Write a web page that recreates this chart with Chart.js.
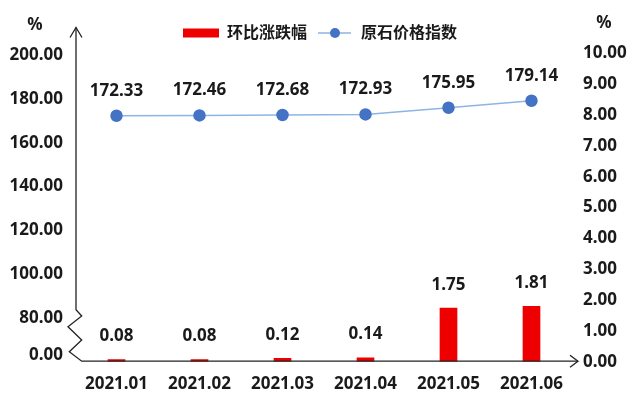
<!DOCTYPE html>
<html>
<head>
<meta charset="utf-8">
<script src="https://cdn.jsdelivr.net/npm/chart.js@4/dist/chart.umd.min.js"></script>
<style>
  html, body { margin: 0; padding: 0; background: #fff; }
  #wrap { width: 640px; height: 402px; }
</style>
</head>
<body>
<div id="wrap"><canvas id="c"></canvas></div>
<script>
// data
const months = ['2021.01', '2021.02', '2021.03', '2021.04', '2021.05', '2021.06'];
const changePct = [0.08, 0.08, 0.12, 0.14, 1.75, 1.81];           // 环比涨跌幅 (right axis)
const priceIndex = [172.33, 172.46, 172.68, 172.93, 175.95, 179.14]; // 原石价格指数 (left axis)
const leftTicks = [80, 100, 120, 140, 160, 180, 200];
const leftBreakTick = 63;   // sits under the axis break, shown as 0.00
const rightMax = 10;

const FONT = '"Noto Sans", "Noto Sans CJK SC", sans-serif';
const INK = '#1a1a1a';

// legend icons, by dataset index
function legendIcon(kind) {
  const cv = document.createElement('canvas');
  cv.width = 36; cv.height = 12;
  const g = cv.getContext('2d');
  if (kind === 'bar') {
    g.fillStyle = '#ee0000';
    g.fillRect(0, 1.5, 36, 9);
  } else {
    g.strokeStyle = '#8eb4e3'; g.lineWidth = 1.5;
    g.beginPath(); g.moveTo(1, 6); g.lineTo(34, 6); g.stroke();
    g.fillStyle = '#4472c4';
    g.beginPath(); g.arc(18, 6, 5, 0, Math.PI * 2); g.fill();
  }
  return cv;
}
const icons = [legendIcon('bar'), legendIcon('line')];

// value labels above bars and points
const valueLabels = {
  id: 'valueLabels',
  afterDatasetsDraw(chart) {
    const ctx = chart.ctx;
    ctx.save();
    ctx.font = 'bold 17px ' + FONT;
    ctx.fillStyle = INK;
    ctx.textAlign = 'center';
    ctx.textBaseline = 'middle';
    chart.getDatasetMeta(0).data.forEach((el, i) => {
      ctx.fillText(changePct[i].toFixed(2), el.x, el.y - 23);
    });
    chart.getDatasetMeta(1).data.forEach((el, i) => {
      ctx.fillText(priceIndex[i].toFixed(2), el.x, el.y - 25);
    });
    ctx.restore();
  }
};

// axis lines with arrows, the break zigzag, % units
const axisDecor = {
  id: 'axisDecor',
  afterDraw(chart) {
    const ctx = chart.ctx, a = chart.chartArea;
    const L = a.left, B = a.bottom;
    ctx.save();
    ctx.strokeStyle = '#222';
    ctx.lineWidth = 1.3;
    ctx.beginPath();
    ctx.moveTo(L + 1, a.top - 26);
    ctx.lineTo(L + 1, B - 52);
    ctx.lineTo(L + 6.7, B - 45.7);
    ctx.lineTo(L - 7, B - 35);
    ctx.lineTo(L + 6.7, B - 21.7);
    ctx.lineTo(L - 5.7, B - 10);
    ctx.lineTo(L + 6.7, B - 0.5);
    ctx.lineTo(a.right + 5, B - 0.5);
    ctx.stroke();
    // arrow heads
    ctx.beginPath();
    ctx.moveTo(L - 5, a.top - 16); ctx.lineTo(L + 1, a.top - 26); ctx.lineTo(L + 7, a.top - 16);
    ctx.moveTo(a.right - 3, B - 6.5); ctx.lineTo(a.right + 5, B - 0.5); ctx.lineTo(a.right - 3, B + 5.5);
    ctx.stroke();
    ctx.font = 'bold 17px ' + FONT;
    ctx.fillStyle = INK;
    ctx.textAlign = 'center';
    ctx.textBaseline = 'middle';
    ctx.fillText('%', 35, 25);
    ctx.fillText('%', 604, 23);
    ctx.restore();
  }
};

// push the plot area down below the legend
const legendGap = {
  id: 'legendGap',
  beforeInit(chart) {
    const fit = chart.legend.fit;
    chart.legend.fit = function () { fit.call(this); this.height = 38.5; };
  }
};

new Chart(document.getElementById('c'), {
  data: {
    labels: months,
    datasets: [
      {
        type: 'bar', label: '环比涨跌幅', data: changePct, yAxisID: 'y2',
        backgroundColor: '#ee0000', barPercentage: 0.213, categoryPercentage: 1
      },
      {
        type: 'line', label: '原石价格指数', data: priceIndex, yAxisID: 'y',
        borderColor: '#8eb4e3', borderWidth: 1.5, pointRadius: 5.5,
        pointBackgroundColor: '#4472c4', pointBorderColor: '#4472c4'
      }
    ]
  },
  options: {
    responsive: true,
    maintainAspectRatio: false,
    animation: false,
    layout: { padding: { top: 15, left: 0, right: 0, bottom: 0 } },
    plugins: {
      legend: {
        position: 'top',
        labels: {
          usePointStyle: true, pointStyleWidth: 36, boxHeight: 12, padding: 10,
          color: INK, font: { family: FONT, size: 16, weight: 'bold' },
          generateLabels(chart) {
            return Chart.defaults.plugins.legend.labels.generateLabels(chart)
              .map(it => Object.assign(it, { pointStyle: icons[it.datasetIndex] }))
              .sort((p, q) => p.datasetIndex - q.datasetIndex);
          }
        }
      },
      tooltip: { enabled: false }
    },
    scales: {
      x: {
        grid: { display: false, drawTicks: false },
        border: { display: false },
        ticks: { color: INK, padding: 12, font: { family: FONT, size: 17, weight: 'bold' } },
        afterFit(s) { s.height = 40.3; }
      },
      y: {
        position: 'left', min: 60.2, max: 200.7,
        grid: { display: false, drawTicks: false },
        border: { display: false },
        afterBuildTicks(s) {
          s.ticks = [leftBreakTick].concat(leftTicks).map(v => ({ value: v }));
        },
        ticks: {
          color: INK, padding: 12, font: { family: FONT, size: 17, weight: 'bold' },
          callback: v => (v === leftBreakTick ? '0.00' : v.toFixed(2))
        },
        afterFit(s) { s.width = 75; }
      },
      y2: {
        position: 'right', min: 0, max: rightMax,
        grid: { display: false, drawTicks: false },
        border: { display: false },
        ticks: {
          stepSize: 1, color: INK, padding: 10, font: { family: FONT, size: 17, weight: 'bold' },
          callback: v => v.toFixed(2)
        },
        afterFit(s) { s.width = 67; }
      }
    }
  },
  plugins: [valueLabels, axisDecor, legendGap]
});
</script>
</body>
</html>
